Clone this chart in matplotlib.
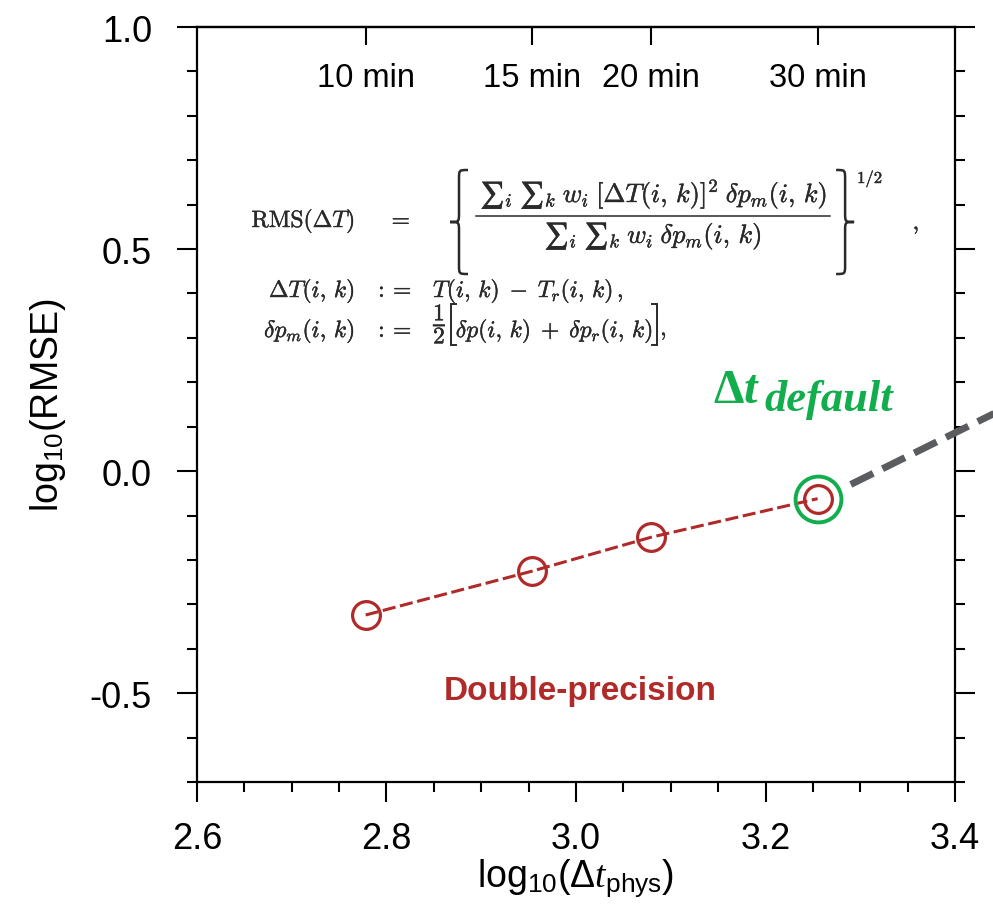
import matplotlib
matplotlib.use('Agg')
import matplotlib.pyplot as plt
from matplotlib.ticker import MultipleLocator, FormatStrFormatter
from matplotlib.path import Path
from matplotlib.patches import PathPatch
from matplotlib.lines import Line2D
import matplotlib.patheffects as pe

plt.rcParams['font.family'] = ['Liberation Sans', 'DejaVu Sans']
plt.rcParams['axes.unicode_minus'] = False
plt.rcParams['mathtext.fontset'] = 'custom'
plt.rcParams['mathtext.rm'] = 'Liberation Sans'
plt.rcParams['mathtext.it'] = 'Liberation Serif:italic'
plt.rcParams['mathtext.bf'] = 'Liberation Sans:bold'
plt.rcParams['mathtext.sf'] = 'Liberation Sans'

# ---------------- data ----------------
step_labels = ['10 min', '15 min', '20 min', '30 min']
log_dt = [2.778, 2.954, 3.079, 3.255]          # log10(dt_phys [s])
log_rmse = [-0.324, -0.225, -0.149, -0.062]    # double precision
trend_x = [3.29, 3.45]                          # grey dashed extrapolation
trend_y = [-0.030, 0.139]
xticks = [2.6, 2.8, 3.0, 3.2, 3.4]
yticks = [-0.5, 0.0, 0.5, 1.0]

RED = '#b02a2a'
GREEN = '#12ad4c'
GREY = '#5b5c60'
EQC = '#2a2a2a'

W, H = 993, 920
fig = plt.figure(figsize=(W / 100, H / 100), dpi=100)
renderer = fig.canvas.get_renderer()


def fx(px):
    return px / W


def fy(py):
    return 1 - py / H


ax = fig.add_axes([fx(197), fy(783), fx(955) - fx(197), fy(28) - fy(783)])
ax.set_xlim(2.6, 3.4)
ax.set_ylim(-0.7, 1.0)

for s in ax.spines.values():
    s.set_linewidth(1.6)

ax.plot(log_dt, log_rmse, color=RED, lw=2.2, dashes=(4.3, 1.5),
        marker='o', ms=20, mfc='none', mec=RED, mew=2.3, zorder=3)
ax.plot([log_dt[-1]], [log_rmse[-1]], marker='o', ms=33, mfc='none',
        mec=GREEN, mew=2.8, zorder=4, linestyle='none')
ax.plot(trend_x, trend_y, color=GREY, lw=5, dashes=(3.6, 1.5),
        dash_capstyle='butt', clip_on=False, zorder=3)

ax.set_xticks(xticks)
ax.set_yticks(yticks)
ax.xaxis.set_major_formatter(FormatStrFormatter('%.1f'))
ax.yaxis.set_major_formatter(FormatStrFormatter('%.1f'))
ax.xaxis.set_minor_locator(MultipleLocator(0.05))
ax.yaxis.set_minor_locator(MultipleLocator(0.1))
ax.tick_params(which='both', direction='out', top=False, right=True,
               width=1.5)
ax.tick_params(which='major', length=14.4, labelsize=26)
ax.tick_params(which='minor', length=7.2)
ax.tick_params(axis='y', which='major', pad=18)
ax.tick_params(axis='x', which='major', pad=14)

sec = ax.secondary_xaxis('top')
sec.set_xticks(log_dt)
sec.tick_params(direction='in', length=13, width=1.5, labeltop=False)
sec.spines['top'].set_linewidth(1.6)

for lbl, x in zip(step_labels, log_dt):
    ax.text(x, 0.9325, lbl, transform=ax.get_xaxis_transform(),
            ha='center', va='center', fontsize=23.5)

# axis labels
fig.text(fx(48), fy(405), r'log$_{\mathrm{10}}$(RMSE)', rotation=90,
         ha='center', va='center', fontsize=27)
fig.text(fx(576), fy(878), r'log$_{\mathrm{10}}$($\Delta t_{\mathrm{phys}}$)',
         ha='center', va='center', fontsize=27)

# annotations
fig.text(fx(580), fy(692), 'Double-precision', color=RED, fontsize=24,
         fontweight='bold', ha='center', va='center')
fig.text(fx(713), fy(403), 'Δ', color=GREEN, fontsize=35, fontweight='bold',
         family='Liberation Serif', ha='left', va='baseline')
fig.text(fx(744), fy(403), 't', color=GREEN, fontsize=35, fontweight='bold',
         fontstyle='italic', family='Liberation Serif', ha='left', va='baseline')
fig.text(fx(764), fy(411), 'default', color=GREEN, fontsize=32, fontweight='bold',
         fontstyle='italic', family='Liberation Serif', ha='left', va='baseline')

# ---------------- equation block ----------------
thick = [pe.withStroke(linewidth=0.3, foreground=EQC)]
eq = dict(color=EQC, fontsize=17, math_fontfamily='cm', path_effects=thick)
eqf = dict(eq, fontsize=19)


def right_px(t):
    return t.get_window_extent(renderer).x1


def brace(x0, x1, ytop, ybot, left=True, lw=1.8):
    """curly brace in figure pixel coordinates"""
    xm = (x0 + x1) / 2
    xo, xi = (x1, x0) if left else (x0, x1)
    ym = (ytop + ybot) / 2
    r = (ybot - ytop) * 0.09
    verts = [(xo, ytop), (xm, ytop), (xm, ytop), (xm, ytop + r),
             (xm, ym - r), (xm, ym), (xm, ym), (xi, ym),
             (xm, ym), (xm, ym), (xm, ym + r),
             (xm, ybot - r), (xm, ybot), (xm, ybot), (xo, ybot)]
    codes = [Path.MOVETO, Path.CURVE4, Path.CURVE4, Path.CURVE4,
             Path.LINETO, Path.CURVE4, Path.CURVE4, Path.CURVE4,
             Path.CURVE4, Path.CURVE4, Path.CURVE4,
             Path.LINETO, Path.CURVE4, Path.CURVE4, Path.CURVE4]
    verts = [(fx(a), fy(b)) for a, b in verts]
    fig.patches.append(PathPatch(Path(verts, codes), transform=fig.transFigure,
                                 fill=False, edgecolor=EQC, lw=lw))


def bracket(x, ytop, ybot, left=True, arm=5, lw=1.4):
    d = arm if left else -arm
    fig.add_artist(Line2D([fx(x + d), fx(x), fx(x), fx(x + d)],
                          [fy(ytop), fy(ytop), fy(ybot), fy(ybot)],
                          transform=fig.transFigure, color=EQC, lw=lw,
                          solid_joinstyle='miter'))


# row 1
fig.text(fx(355), fy(222), r'$\mathrm{RMS}(\Delta T)$', ha='right', va='center', **eq)
fig.text(fx(399), fy(222), r'$=$', ha='center', va='center', **eq)
brace(450, 468, 171, 275, left=True)
num = fig.text(fx(480), fy(212),
               r'$∑_i\;∑_k\; w_i\;\left[\Delta T(i,\,k)\right]^2\;\delta p_m(i,\,k)$',
               ha='left', va='bottom', **eqf)
num_end = right_px(num)
bar_end = num_end + 3
fig.add_artist(Line2D([fx(476), fx(bar_end)], [fy(217), fy(217)],
                      transform=fig.transFigure, color=EQC, lw=1.1))
fig.text(fx((476 + bar_end) / 2), fy(222), r'$∑_i\;∑_k\; w_i\;\delta p_m(i,\,k)$',
         ha='center', va='top', **eqf)
brace(bar_end + 6, bar_end + 24, 171, 275, left=False)
fig.text(fx(bar_end + 27), fy(180), r'$1/2$', ha='left', va='center',
         color=EQC, fontsize=12, math_fontfamily='cm', path_effects=thick)
fig.text(fx(916), fy(226), r'$,$', ha='center', va='center', **eq)

# row 2
fig.text(fx(355), fy(292), r'$\Delta T(i,\,k)$', ha='right', va='center', **eq)
fig.text(fx(393), fy(292), r'$:=$', ha='center', va='center', **eq)
fig.text(fx(433), fy(292), r'$T(i,\,k)\;-\;T_r(i,\,k)\,,$', ha='left', va='center', **eq)

# row 3
fig.text(fx(355), fy(332), r'$\delta p_m(i,\,k)$', ha='right', va='center', **eq)
fig.text(fx(393), fy(332), r'$:=$', ha='center', va='center', **eq)
half = fig.text(fx(433), fy(325), r'$\dfrac{1}{2}$', ha='left', va='center', **eq)
xb = right_px(half) + 4
bracket(xb, 305, 346, left=True)
inner = fig.text(fx(xb + 5), fy(332), r'$\delta p(i,\,k)\;+\;\delta p_r(i,\,k)$',
                 ha='left', va='center', **eq)
xe = right_px(inner) + 4
bracket(xe, 305, 346, left=False)
fig.text(fx(xe + 3), fy(332), r'$,$', ha='left', va='center', **eq)

fig.savefig('out.png', dpi=100)
